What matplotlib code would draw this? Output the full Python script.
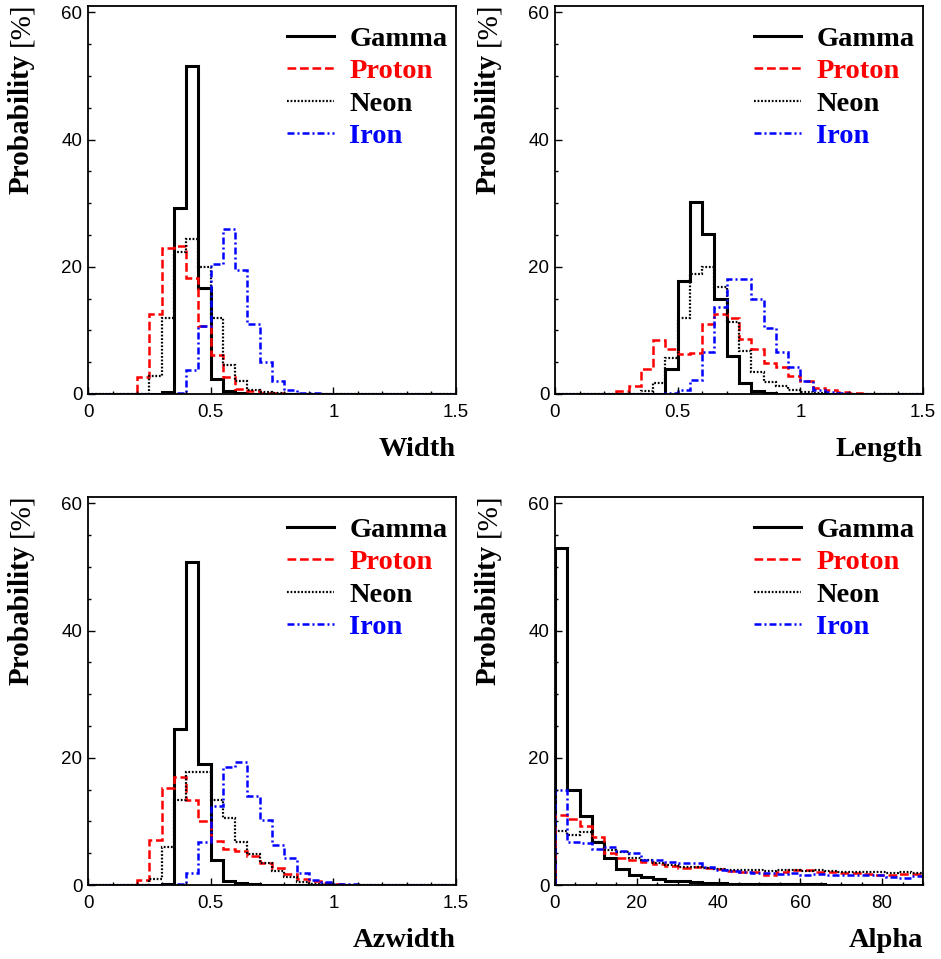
import numpy as np
import matplotlib
matplotlib.use("Agg")
import matplotlib.pyplot as plt
from matplotlib.ticker import MultipleLocator, FormatStrFormatter

# ====== data (percent per bin) ======
# Width / Length / Azwidth : 30 bins of 0.05 from 0 to 1.5
width_gamma = [0, 0, 0, 0, 0, 0, 0.3, 29.3, 51.5, 16.6, 2.3, 0.5, 0.1, 0, 0,
               0, 0, 0, 0, 0, 0, 0, 0, 0, 0, 0, 0, 0, 0, 0]
width_proton = [0, 0, 0, 0, 2.7, 12.5, 23.0, 23.2, 18.2, 10.7, 6.1, 2.6, 0.8, 0.4, 0.2,
                0.1, 0, 0, 0, 0, 0, 0, 0, 0, 0, 0, 0, 0, 0, 0]
width_neon = [0, 0, 0, 0, 0, 2.8, 12.0, 22.4, 24.4, 19.9, 11.9, 4.6, 2.0, 0.6, 0.3,
              0.1, 0, 0, 0, 0, 0, 0, 0, 0, 0, 0, 0, 0, 0, 0]
width_iron = [0, 0, 0, 0, 0, 0, 0, 0.2, 3.8, 10.7, 20.5, 26.0, 19.5, 11.0, 5.0,
              2.0, 0.6, 0.2, 0.1, 0, 0, 0, 0, 0, 0, 0, 0, 0, 0, 0]

length_gamma = [0, 0, 0, 0, 0, 0, 0, 0, 0, 3.9, 17.7, 30.2, 25.1, 15.0, 6.0,
                1.7, 0.4, 0.1, 0, 0, 0, 0, 0, 0, 0, 0, 0, 0, 0, 0]
length_proton = [0, 0, 0, 0, 0, 0.4, 1.2, 3.9, 8.5, 7.1, 6.3, 6.5, 11.0, 12.5, 12.0,
                 8.7, 7.1, 4.9, 4.3, 2.8, 2.0, 1.0, 0.6, 0.3, 0.1, 0, 0, 0, 0, 0]
length_neon = [0, 0, 0, 0, 0, 0, 0, 0.4, 1.7, 5.6, 12.0, 18.8, 19.9, 16.8, 11.3,
               6.8, 3.4, 1.9, 1.2, 0.6, 0.3, 0.1, 0, 0, 0, 0, 0, 0, 0, 0]
length_iron = [0, 0, 0, 0, 0, 0, 0, 0, 0, 0.2, 0.6, 2.2, 6.6, 13.6, 18.1,
               18.1, 14.9, 10.3, 6.6, 4.3, 2.0, 0.7, 0.3, 0.1, 0, 0, 0, 0, 0, 0]

az_gamma = [0, 0, 0, 0, 0, 0, 0.1, 24.5, 50.8, 19.1, 4.0, 0.7, 0.3, 0.1, 0,
            0, 0, 0, 0, 0, 0, 0, 0, 0, 0, 0, 0, 0, 0, 0]
az_proton = [0, 0, 0, 0, 0.8, 7.0, 15.2, 17.0, 13.4, 10.0, 6.9, 5.6, 5.3, 4.5, 3.4,
             2.7, 1.8, 1.0, 0.6, 0.3, 0.1, 0, 0, 0, 0, 0, 0, 0, 0, 0]
az_neon = [0, 0, 0, 0, 0, 1.0, 6.0, 13.4, 17.8, 17.8, 13.4, 10.6, 6.7, 4.8, 3.4,
           2.2, 1.2, 0.5, 0.2, 0.1, 0, 0, 0, 0, 0, 0, 0, 0, 0, 0]
az_iron = [0, 0, 0, 0, 0, 0, 0, 0.1, 1.9, 6.7, 12.4, 18.6, 19.4, 14.0, 10.2,
           6.3, 4.3, 1.9, 0.8, 0.4, 0.2, 0.1, 0, 0, 0, 0, 0, 0, 0, 0]

# Alpha : 30 bins of 3 deg from 0 to 90
alpha_gamma = [53.0, 15.0, 10.8, 6.7, 4.2, 2.5, 1.5, 1.3, 1.0, 0.7, 0.6, 0.4, 0.3, 0.25, 0.2,
               0.2, 0.15, 0.15, 0.1, 0.1, 0.1, 0.1, 0.05, 0.05, 0.05, 0.05, 0.05, 0.05, 0.05, 0.05]
alpha_proton = [11.0, 10.4, 9.3, 7.6, 5.1, 4.3, 3.9, 3.6, 3.3, 3.0, 2.6, 2.8, 2.6, 2.5, 2.2,
                2.0, 2.0, 1.6, 2.1, 2.3, 2.4, 2.1, 2.0, 1.85, 1.85, 1.7, 1.6, 1.6, 1.7, 1.7]
alpha_neon = [8.5, 7.8, 8.4, 6.7, 5.5, 5.2, 4.2, 3.9, 3.5, 3.1, 2.9, 2.8, 2.6, 2.5, 2.4,
              2.3, 2.3, 2.2, 2.3, 2.4, 2.2, 2.3, 2.2, 2.1, 2.0, 2.1, 2.0, 1.9, 2.0, 1.9]
alpha_iron = [15.0, 6.7, 6.6, 5.7, 6.0, 5.3, 5.0, 4.0, 4.0, 3.6, 3.5, 3.4, 2.9, 2.4, 2.2,
              2.0, 1.9, 1.9, 1.8, 1.9, 1.6, 1.7, 1.6, 1.5, 1.6, 1.5, 1.6, 1.3, 1.1, 1.4]

species = ["Gamma", "Proton", "Neon", "Iron"]
colors = ["black", "red", "black", "blue"]
styles = ["-", (0, (3.5, 1.5)), (0, (0.8, 0.8)), (0, (2.8, 1.2, 0.8, 1.2))]
widths = [2.2, 1.8, 1.6, 1.8]

panels = [
    ("Width", 1.5, [width_gamma, width_proton, width_neon, width_iron]),
    ("Length", 1.5, [length_gamma, length_proton, length_neon, length_iron]),
    ("Azwidth", 1.5, [az_gamma, az_proton, az_neon, az_iron]),
    ("Alpha", 90, [alpha_gamma, alpha_proton, alpha_neon, alpha_iron]),
]

# ====== layout (pixels) ======
W, H = 941, 959
lefts = [88, 555, 88, 555]
tops = [6, 6, 497, 497]
aw, ah = 368, 388

serif = "Liberation Serif"
plt.rcParams["font.family"] = "Liberation Sans"

fig = plt.figure(figsize=(W / 100, H / 100), dpi=100)

for i, (name, xmax, series) in enumerate(panels):
    ax = fig.add_axes([lefts[i] / W, 1 - (tops[i] + ah) / H, aw / W, ah / H])
    edges = np.linspace(0, xmax, len(series[0]) + 1)
    for vals, lab, c, ls, lw in zip(series, species, colors, styles, widths):
        ax.stairs(vals, edges, color=c, linestyle=ls, linewidth=lw, label=lab)

    ax.set_xlim(0, xmax)
    ax.set_ylim(0, 61)
    if xmax > 10:
        ax.xaxis.set_major_locator(MultipleLocator(20))
        ax.xaxis.set_minor_locator(MultipleLocator(5))
    else:
        ax.xaxis.set_major_locator(MultipleLocator(0.5))
        ax.xaxis.set_minor_locator(MultipleLocator(0.1))
    ax.xaxis.set_major_formatter(FormatStrFormatter("%g"))
    ax.yaxis.set_major_locator(MultipleLocator(20))
    ax.yaxis.set_minor_locator(MultipleLocator(5))
    ax.tick_params(which="both", direction="in", top=False, right=False, width=1)
    ax.tick_params(which="major", length=5, labelsize=13.5)
    ax.tick_params(which="minor", length=2.5)
    ax.tick_params(axis="x", pad=7)
    ax.tick_params(axis="y", pad=4)
    for sp in ax.spines.values():
        sp.set_linewidth(1.3)

    ax.set_xlabel(name, fontfamily=serif, fontweight="bold", fontsize=20.5, ha="right")
    ax.xaxis.set_label_coords(1.0, -0.11)

    ax.text(-0.182, 1.008, "[%]", rotation=90, ha="center", va="top",
            transform=ax.transAxes, fontfamily=serif, fontsize=21)
    ax.text(-0.182, 0.877, "Probability", rotation=90, ha="center", va="top",
            transform=ax.transAxes, fontfamily=serif, fontweight="bold", fontsize=21)

    leg = ax.legend(loc="upper right", bbox_to_anchor=(1.0, 0.97), frameon=False,
                    prop={"family": serif, "weight": "bold", "size": 20.5},
                    labelcolor=colors, handlelength=1.65, handletextpad=0.55,
                    labelspacing=0.22, borderaxespad=0.0, borderpad=0.3)

fig.savefig("out.png", dpi=100)
